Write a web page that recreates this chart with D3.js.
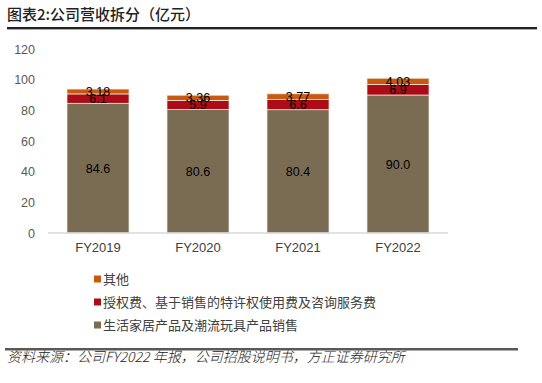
<!DOCTYPE html>
<html><head><meta charset="utf-8">
<script src="https://cdn.jsdelivr.net/npm/d3@7"></script>
<style>
html,body{margin:0;padding:0;background:#fff;}
svg{display:block;}
</style></head>
<body>
<script>
const categories = ["FY2019","FY2020","FY2021","FY2022"];
const seriesNames = ["生活家居产品及潮流玩具产品销售","授权费、基于销售的特许权使用费及咨询服务费","其他"];
const productSales = [84.6, 80.6, 80.4, 90.0];
const licenseFees = [6.1, 5.9, 6.6, 6.9];
const others = [3.18, 3.36, 3.77, 4.03];
const labelsProduct = ["84.6","80.6","80.4","90.0"];
const labelsLicense = ["6.1","5.9","6.6","6.9"];
const labelsOthers = ["3.18","3.36","3.77","4.03"];
const yTicks = [0,20,40,60,80,100,120];
const colors = ["#7a6b53","#ab0c17","#c9590f"];
const title = "图表2:公司营收拆分（亿元）";
const source = "资料来源：公司FY2022 年报，公司招股说明书，方正证券研究所";

const W=542,H=383;
const svg=d3.select("body").append("svg").attr("width",W).attr("height",H);
const font="Arial, 'Liberation Sans', 'Noto Sans CJK SC', sans-serif";

// header
svg.append("text").attr("x",7).attr("y",20).attr("font-family","'Noto Sans CJK SC', sans-serif")
  .attr("font-size",15).attr("font-weight","500").attr("fill","#222").text(title);
svg.append("line").attr("x1",7).attr("x2",537).attr("y1",28).attr("y2",28).attr("stroke","#222").attr("stroke-width",2);
svg.append("line").attr("x1",7).attr("x2",537).attr("y1",29.5).attr("y2",29.5).attr("stroke","#aaa").attr("stroke-width",1);

const x=d3.scaleBand().domain(categories).range([48,448]).paddingInner(0.38).paddingOuter(0.19);
const y=d3.scaleLinear().domain([0,120]).range([233,49]);

const data=categories.map((c,i)=>({cat:c,p:productSales[i],l:licenseFees[i],o:others[i],
  lp:labelsProduct[i],ll:labelsLicense[i],lo:labelsOthers[i]}));
const stack=d3.stack().keys(["p","l","o"])(data);
const labelKeys={p:"lp",l:"ll",o:"lo"};

stack.forEach((layer,k)=>{
  const g=svg.append("g");
  g.selectAll("rect").data(layer).enter().append("rect")
    .attr("x",d=>x(d.data.cat)).attr("width",x.bandwidth())
    .attr("y",d=>y(d[1])).attr("height",d=>y(d[0])-y(d[1]))
    .attr("fill",colors[k]).attr("stroke","#f3ede6").attr("stroke-width",0.7);
});
stack.forEach((layer,k)=>{
  svg.append("g").selectAll("text").data(layer).enter().append("text")
    .attr("x",d=>x(d.data.cat)+x.bandwidth()/2)
    .attr("y",d=>(y(d[0])+y(d[1]))/2+4.5)
    .attr("text-anchor","middle").attr("font-family",font).attr("font-size",12.5)
    .attr("fill","#000").text(d=>d.data[labelKeys[layer.key]]);
});

// baseline
svg.append("line").attr("x1",48).attr("x2",448).attr("y1",y(0)).attr("y2",y(0)).attr("stroke","#d9d9d9").attr("stroke-width",1.5);

// y axis
const ya=svg.append("g").attr("transform","translate(40,0)")
  .call(d3.axisLeft(y).tickValues(yTicks).tickSize(0).tickPadding(5));
ya.select(".domain").remove();
ya.selectAll("text").attr("font-family",font).attr("font-size",12.5).attr("fill","#595959");

// x axis
const xa=svg.append("g").attr("transform",`translate(0,${y(0)})`)
  .call(d3.axisBottom(x).tickSize(0).tickPadding(10));
xa.select(".domain").remove();
xa.selectAll("text").attr("font-family",font).attr("font-size",13).attr("fill","#404040");

// legend
const legendOrder=[2,1,0];
const lg=svg.append("g");
legendOrder.forEach((k,i)=>{
  const cy=279+i*23;
  lg.append("rect").attr("x",94).attr("y",cy-3.5).attr("width",7).attr("height",7).attr("fill",colors[k]);
  lg.append("text").attr("x",103).attr("y",cy+4.5).attr("font-family","'Noto Sans CJK SC', sans-serif")
    .attr("font-size",13).attr("fill","#404040").text(seriesNames[k]);
});

// footer
svg.append("line").attr("x1",5).attr("x2",518).attr("y1",349).attr("y2",349).attr("stroke","#222").attr("stroke-width",1.5);
svg.append("line").attr("x1",5).attr("x2",518).attr("y1",350.5).attr("y2",350.5).attr("stroke","#aaa").attr("stroke-width",1);
svg.append("text").attr("x",7).attr("y",362).attr("font-family","'Noto Sans CJK SC', sans-serif")
  .attr("font-size",14).attr("font-style","italic").attr("font-weight","300").attr("fill","#222").text(source);
</script>
</body></html>
